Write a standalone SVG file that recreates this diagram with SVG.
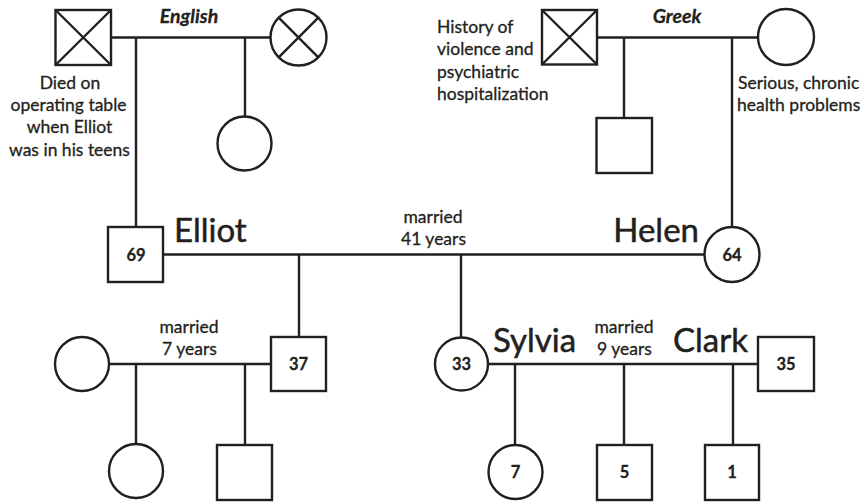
<svg xmlns="http://www.w3.org/2000/svg" width="865" height="502" viewBox="0 0 865 502">
<style>
.s{fill:#fff;stroke:#231f20;stroke-width:2.4}
.l{fill:none;stroke:#231f20;stroke-width:2.4}
text{font-family:Lato,"Liberation Sans",sans-serif;fill:#231f20;stroke:#231f20;stroke-width:0.3}
.n{font-size:17.5px}
.c{text-anchor:middle}
.b{font-size:16.5px;font-weight:bold;text-anchor:middle}
.big{font-size:33px;stroke-width:0.5}
.eth{font-size:19.5px;font-weight:bold;font-style:italic;text-anchor:middle}
</style>
<rect width="865" height="502" fill="#fff"/>
<g id="connectors">
<path class="l" d="M111 37.5H270.5M136 37.5V227M245 37.5V117"/>
<path class="l" d="M597 37.5H758M624 37.5V118M732 37.5V227"/>
<path class="l" d="M163 254.5H705M299 254.5V337M461 254.5V337"/>
<path class="l" d="M109 364H271M136 364V444M245 364V445"/>
<path class="l" d="M488 364H758M515 364V445M624 364V445M733 364V445"/>
</g>
<g id="eng-grandfather"><rect class="s" x="55.5" y="10" width="55.5" height="55"/><path class="l" d="M55.5 10L111 65M111 10L55.5 65"/></g>
<g id="eng-grandmother"><circle class="s" cx="298.5" cy="37.5" r="28"/><path class="l" d="M278.7 17.7L318.3 57.3M318.3 17.7L278.7 57.3"/></g>
<g id="eng-daughter"><circle class="s" cx="244.5" cy="143.5" r="27"/></g>
<g id="gr-grandfather"><rect class="s" x="542" y="10" width="55" height="54.5"/><path class="l" d="M542 10L597 64.5M597 10L542 64.5"/></g>
<g id="gr-grandmother"><circle class="s" cx="786" cy="37" r="28"/></g>
<g id="gr-son"><rect class="s" x="596.5" y="118" width="55.5" height="55"/></g>
<g id="elliot"><rect class="s" x="108" y="227" width="55" height="55"/><text class="b" x="136" y="260.5">69</text></g>
<g id="helen"><circle class="s" cx="732" cy="254.5" r="27.5"/><text class="b" x="732" y="260.5">64</text></g>
<g id="ex-wife"><circle class="s" cx="82" cy="364" r="27"/></g>
<g id="son37"><rect class="s" x="271" y="337" width="55" height="54"/><text class="b" x="298.5" y="370">37</text></g>
<g id="granddaughter1"><circle class="s" cx="136" cy="471" r="27"/></g>
<g id="grandson1"><rect class="s" x="217" y="445" width="55" height="55"/></g>
<g id="sylvia"><circle class="s" cx="461.5" cy="364" r="26.5"/><text class="b" x="461.5" y="370">33</text></g>
<g id="clark"><rect class="s" x="758" y="337" width="56" height="54"/><text class="b" x="786" y="370">35</text></g>
<g id="child7"><circle class="s" cx="515.5" cy="472" r="27"/><text class="b" x="515.5" y="478">7</text></g>
<g id="child5"><rect class="s" x="597" y="445" width="55" height="55"/><text class="b" x="624.5" y="478">5</text></g>
<g id="child1"><rect class="s" x="705" y="445" width="54" height="55"/><text class="b" x="732" y="478">1</text></g>
<g id="labels">
<text class="eth" x="189" y="23">English</text>
<text class="eth" x="677" y="23">Greek</text>
<text class="n c" x="70" y="88.5">Died on</text>
<text class="n c" x="68.5" y="111">operating table</text>
<text class="n c" x="69.5" y="133">when Elliot</text>
<text class="n c" x="69.5" y="156">was in his teens</text>
<text class="n" x="437" y="32.5">History of</text>
<text class="n" x="437" y="55">violence and</text>
<text class="n" x="437" y="77.5">psychiatric</text>
<text class="n" x="437" y="100">hospitalization</text>
<text class="n" x="738" y="88.5">Serious, chronic</text>
<text class="n" x="737" y="111">health problems</text>
<text class="n c" x="433" y="223">married</text>
<text class="n c" x="433.5" y="244.5">41 years</text>
<text class="n c" x="189" y="333">married</text>
<text class="n c" x="189.5" y="354.5">7 years</text>
<text class="n c" x="624" y="333">married</text>
<text class="n c" x="624.5" y="354.5">9 years</text>
<text class="big" x="174" y="242">Elliot</text>
<text class="big" x="699" y="242" text-anchor="end">Helen</text>
<text class="big" x="493" y="352">Sylvia</text>
<text class="big" x="673" y="352">Clark</text>
</g>
</svg>
